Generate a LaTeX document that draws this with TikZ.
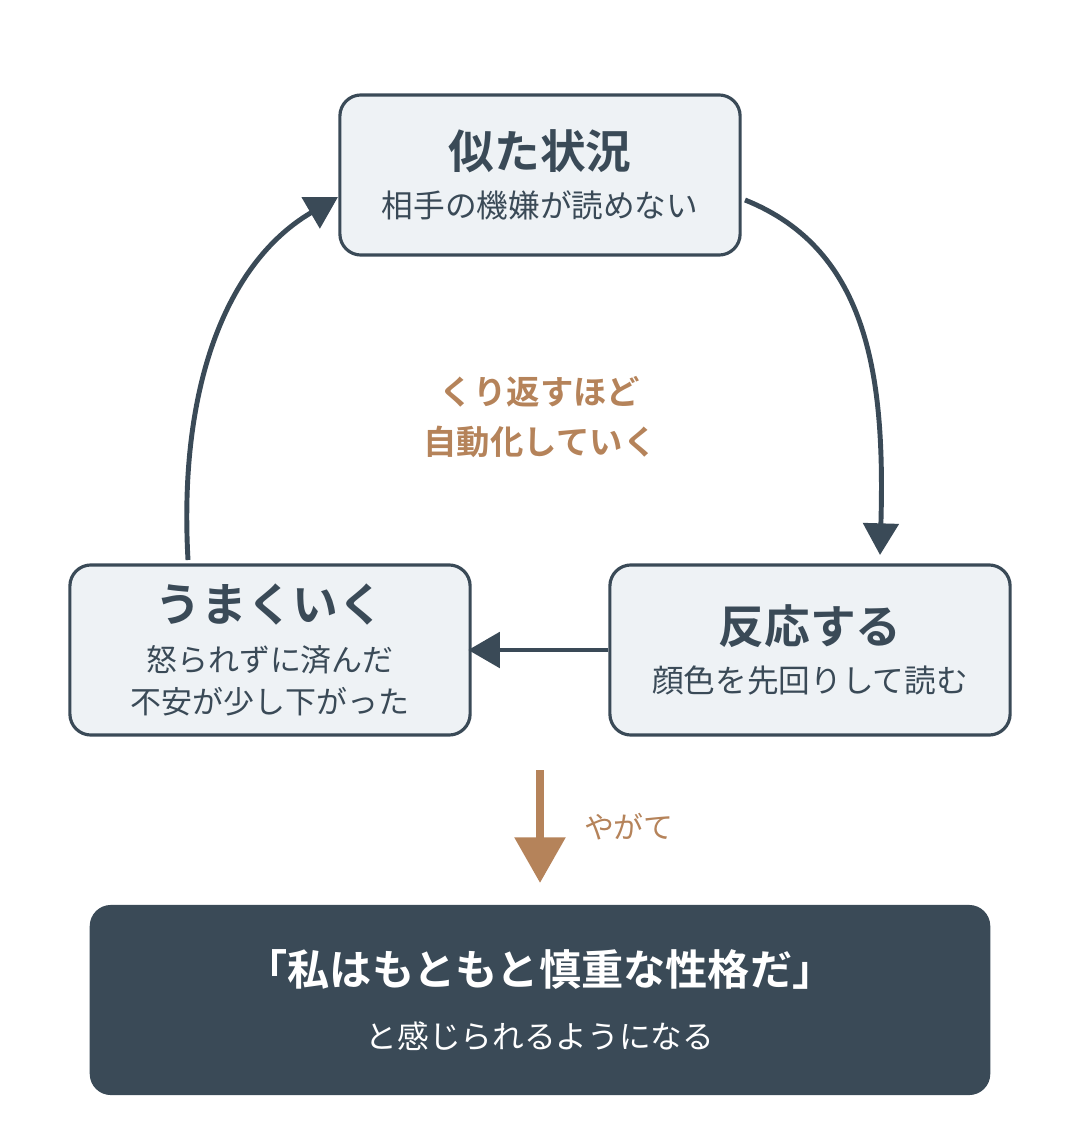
\documentclass[tikz,border=0pt]{standalone}
\usepackage{fontspec}
\setmainfont{Noto Sans CJK JP}
\newfontfamily\jpbold{Noto Sans CJK JP Bold}
\usetikzlibrary{arrows.meta}
\definecolor{slate}{HTML}{3A4A57}
\definecolor{paper}{HTML}{EEF2F5}
\definecolor{copper}{HTML}{B5835A}
\tikzset{
  stage/.style = {draw=slate, line width=0.9pt, fill=paper, rounded corners=6pt,
    minimum width=4cm, minimum height=1.65cm, align=center, text=slate},
  flow/.style = {draw=slate, line width=1.4pt, -{Triangle[length=9pt,width=10pt]}}
}
\begin{document}
\begin{tikzpicture}[x=0.01cm,y=-0.01cm]
\useasboundingbox (0,0) rectangle (1080,1140);
\node[stage, minimum height=1.6cm](same)at(540,175){{\jpbold\fontsize{13}{16}\selectfont 似た状況}\\[2pt]{\fontsize{9}{11}\selectfont 相手の機嫌が読めない}};
\node[stage, minimum height=1.7cm](react)at(810,650){{\jpbold\fontsize{13}{16}\selectfont 反応する}\\[2pt]{\fontsize{9}{11}\selectfont 顔色を先回りして読む}};
\node[stage, minimum height=1.7cm](ok)at(270,650){{\jpbold\fontsize{13}{16}\selectfont うまくいく}\\[2pt]{\fontsize{8.8}{10.5}\selectfont 怒られずに済んだ}\\{\fontsize{8.8}{10.5}\selectfont 不安が少し下がった}};
\node[fill=slate, rounded corners=6pt, minimum width=9cm, minimum height=1.9cm, align=center, text=white](belief)at(540,1000){{\jpbold\fontsize{12}{14}\selectfont 「私はもともと慎重な性格だ」}\\[6pt]{\fontsize{9}{10}\selectfont と感じられるようになる}};
\node[text=copper, align=center, font=\jpbold\fontsize{9.5}{14}\selectfont](loop)at(540,417){くり返すほど\\自動化していく};
\coordinate(c1)at(745,200);
\coordinate(c2)at(880,555);
\coordinate(c3)at(188,560);
\coordinate(c4)at(338,197);
\draw[flow](c1) .. controls (870,250) and (885,380) .. (c2);
\draw[flow](react.west)--([xshift=-1pt]ok.east);
\draw[flow](c3) .. controls (178,380) and (230,260) .. (c4);
\coordinate(d1)at(540,770);
\coordinate(d2)at(540,883);
\draw[copper, line width=2.4pt, -{Triangle[length=13pt,width=14pt]}](d1)--(d2)node[midway, right=8pt, text=copper]{\fontsize{8.5}{10}\selectfont やがて};
\end{tikzpicture}
\end{document}
